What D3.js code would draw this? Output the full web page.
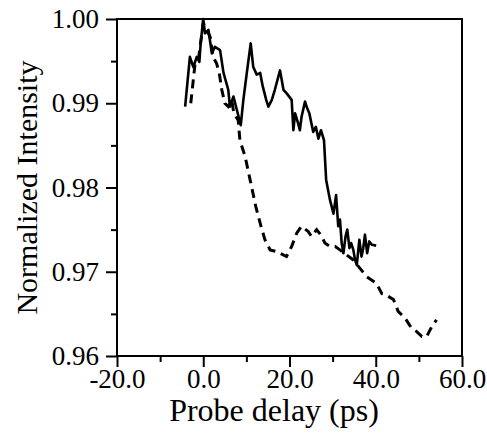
<!DOCTYPE html>
<html>
<head>
<meta charset="utf-8">
<script src="https://cdn.jsdelivr.net/npm/d3@7"></script>
<style>
  body { margin: 0; background: #fff; }
  text { font-family: "Liberation Serif", "Times New Roman", serif; fill: #000; }
</style>
</head>
<body>
<svg id="chart" width="487" height="437"></svg>
<script>
// probe delay (ps) / normalized intensity
const solid_x = [-4.2, -3.1, -2.3, -1.5, -0.9, -0.6, 0, 0.4, 1.2, 2, 2.7, 3.9, 4.7, 5.8, 6.2, 7, 7.8, 8.7, 9.3, 10.1, 11, 11.6, 12.4, 13.2, 13.8, 14.6, 15.1, 15.9, 16.6, 17.8, 18.6, 19.3, 20.5, 20.9, 21.3, 22, 22.4, 22.8, 23.6, 24.1, 24.6, 25.5, 26.1, 26.7, 27.3, 28, 28.5, 29.4, 30.2, 30.8, 31.3, 31.7, 32.1, 32.5, 33.0, 33.4, 33.9, 34.3, 34.8, 35.2, 35.6, 36.2, 36.7, 37.1, 37.5, 38, 38.5, 39.1, 40.1];
const solid_y = [0.9896, 0.9955, 0.9943, 0.9955, 0.9949, 0.9971, 1.0, 0.9983, 0.9987, 0.9959, 0.9967, 0.9963, 0.9936, 0.9916, 0.9896, 0.9908, 0.9892, 0.9874, 0.9904, 0.9936, 0.9971, 0.9943, 0.9934, 0.9936, 0.9920, 0.9904, 0.9896, 0.9904, 0.9916, 0.9939, 0.9916, 0.9912, 0.9904, 0.9868, 0.9888, 0.9876, 0.9868, 0.9884, 0.9902, 0.9894, 0.9888, 0.9866, 0.9872, 0.9858, 0.9868, 0.9856, 0.9809, 0.9785, 0.9769, 0.9791, 0.9754, 0.9762, 0.9734, 0.9722, 0.9742, 0.9750, 0.9728, 0.9734, 0.9726, 0.9714, 0.9708, 0.9738, 0.9718, 0.9728, 0.9744, 0.9722, 0.9736, 0.9732, 0.9731];

const dashed_x = [-2.9, -2.3, -1.9, -1.1, 0, 1.6, 2.3, 3.1, 3.7, 4.3, 5, 5.8, 6.6, 7.1, 8.1, 8.5, 9.7, 11.2, 12.2, 13.5, 14.3, 15.5, 17, 19.3, 20.5, 21.7, 22.8, 24.3, 25.1, 26.3, 27.5, 28.2, 29.4, 30.6, 31.7, 34.8, 37.9, 40.2, 41.4, 42.5, 44.1, 45.2, 46.8, 48.3, 49.5, 50.7, 51.8, 53, 54.1];
const dashed_y = [0.9900, 0.9928, 0.9947, 0.9953, 0.9995, 0.9979, 0.9955, 0.9947, 0.9936, 0.9916, 0.9900, 0.9896, 0.9904, 0.9888, 0.9880, 0.9856, 0.9837, 0.9801, 0.9777, 0.9752, 0.9738, 0.9726, 0.9724, 0.9718, 0.9730, 0.9746, 0.9754, 0.9748, 0.9742, 0.9750, 0.9742, 0.9734, 0.9730, 0.9730, 0.9726, 0.9714, 0.9694, 0.9686, 0.9674, 0.9672, 0.9667, 0.9653, 0.9645, 0.9633, 0.9629, 0.9623, 0.9623, 0.9635, 0.9643];

const x_ticks = [-20, 0, 20, 40, 60];
const x_minor = [-10, 10, 30, 50];
const y_ticks = [0.96, 0.97, 0.98, 0.99, 1.00];
const y_minor = [0.965, 0.975, 0.985, 0.995];

const serif = "'Liberation Serif', 'Times New Roman', serif";

const margin = { left: 117, right: 25, top: 19, bottom: 81 };
const width = 487, height = 437;

const x = d3.scaleLinear().domain([-20, 60]).range([margin.left, width - margin.right]);
const y = d3.scaleLinear().domain([0.96, 1.00]).range([height - margin.bottom, margin.top]);

const svg = d3.select('#chart');

// frame
svg.append('rect')
  .attr('x', x(-20)).attr('y', y(1.00))
  .attr('width', x(60) - x(-20)).attr('height', y(0.96) - y(1.00))
  .attr('fill', 'none').attr('stroke', '#000').attr('stroke-width', 2);

// bottom axis (plain hyphen for the minus sign, like the original)
const x_axis = svg.append('g').attr('transform', `translate(0,${y(0.96)})`);
x_axis.call(d3.axisBottom(x).tickValues(x_ticks).tickFormat(d => d.toFixed(1)).tickSize(11).tickPadding(2));
x_axis.append('g').call(d3.axisBottom(x).tickValues(x_minor).tickFormat('').tickSize(6));

// left axis
const y_axis = svg.append('g').attr('transform', `translate(${x(-20)},0)`);
y_axis.call(d3.axisLeft(y).tickValues(y_ticks).tickFormat(d => d.toFixed(2)).tickSize(11).tickPadding(7));
y_axis.append('g').call(d3.axisLeft(y).tickValues(y_minor).tickFormat('').tickSize(6));

svg.selectAll('.domain').remove();
svg.selectAll('g').attr('font-family', serif);
svg.selectAll('.tick line').attr('stroke', '#000').attr('stroke-width', 2);
svg.selectAll('.tick text')
  .attr('font-family', serif)
  .attr('font-size', 27)
  .attr('fill', '#000');

// curves
const line = d3.line().x(d => x(d[0])).y(d => y(d[1]));

svg.append('path')
  .datum(dashed_x.map((v, i) => [v, dashed_y[i]]))
  .attr('d', line)
  .attr('fill', 'none').attr('stroke', '#000')
  .attr('stroke-width', 3)
  .attr('stroke-dasharray', '9,6');

svg.append('path')
  .datum(solid_x.map((v, i) => [v, solid_y[i]]))
  .attr('d', line)
  .attr('fill', 'none').attr('stroke', '#000')
  .attr('stroke-width', 2.6)
  .attr('stroke-linejoin', 'round');

// axis titles
svg.append('text')
  .attr('x', 274)
  .attr('y', 421)
  .attr('text-anchor', 'middle')
  .attr('font-family', serif)
  .attr('font-size', 32)
  .text('Probe delay (ps)');

svg.append('text')
  .attr('transform', `translate(37,${(y(0.96) + y(1.00)) / 2}) rotate(-90)`)
  .attr('text-anchor', 'middle')
  .attr('font-family', serif)
  .attr('font-size', 30)
  .text('Normalized Intensity');
</script>
</body>
</html>
